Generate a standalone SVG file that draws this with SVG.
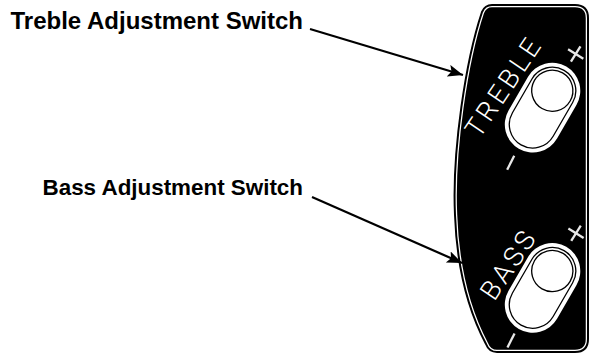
<svg xmlns="http://www.w3.org/2000/svg" width="590" height="356" viewBox="0 0 590 356">
  <defs>
    <style>
      .label { font-family: "Liberation Sans", Arial, sans-serif; font-weight: bold; font-size: 24px; fill: #000; }
      .panel-text { font-family: Roboto, "Liberation Sans", sans-serif; font-weight: 300; font-size: 27px; fill: #fff; letter-spacing: 3.5px; }
      .sign { stroke: #e8e8e8; stroke-width: 2.3; stroke-linecap: butt; fill: none; }
      .cap-outer { fill: #fff; }
      .cap-inner { fill: #fff; stroke: #000; stroke-width: 1.3; }
      .knob { fill: #fff; stroke: #000; stroke-width: 1.3; }
      .conn { stroke: #000; stroke-width: 2.2; fill: none; marker-end: url(#arrow); }
    </style>
    <marker id="arrow" markerUnits="userSpaceOnUse" markerWidth="18" markerHeight="14" refX="15" refY="6" orient="auto">
      <path d="M0,0 L15,6 L0,12 L3,6 Z" fill="#000"/>
    </marker>
    <path id="panelPath" d="M 492,5 L 575,5 Q 588,5 588,18 L 588,339 Q 588,352 575,352 L 497,352 Q 489,352 486,344 C 468,310 457,270 455,215 C 452,150 466,60 482,12 Q 485,5 492,5 Z"/>
    <g id="switchShape">
      <rect class="cap-outer" x="-67" y="-28" width="95" height="56" rx="28"/>
      <rect class="cap-inner" x="-62.5" y="-23.5" width="86" height="47" rx="23.5"/>
      <circle class="knob" cx="0" cy="0" r="20.6"/>
    </g>
  </defs>

  <g id="panel">
    <use href="#panelPath" fill="#000" stroke="#fff" stroke-width="4.5"/>
    <use href="#panelPath" fill="none" stroke="#000" stroke-width="2"/>
  </g>

  <g id="treble-switch">
    <use href="#switchShape" transform="translate(552.3,90.7) rotate(-60)"/>
    <text class="panel-text" text-anchor="middle" transform="translate(511.5,91.5) rotate(-56)">TREBLE</text>
    <line class="sign" x1="-9" y1="0" x2="9" y2="0" transform="translate(575.7,54) rotate(-58)"/>
    <line class="sign" x1="0" y1="-9" x2="0" y2="9" transform="translate(575.7,54) rotate(-58)"/>
    <line class="sign" x1="-7.8" y1="0" x2="7.8" y2="0" transform="translate(510.7,162.8) rotate(-63)"/>
  </g>

  <g id="bass-switch">
    <use href="#switchShape" transform="translate(552.3,271) rotate(-60)"/>
    <text class="panel-text" text-anchor="middle" transform="translate(516.5,269) rotate(-56)">BASS</text>
    <line class="sign" x1="-9" y1="0" x2="9" y2="0" transform="translate(576,233.3) rotate(-58)"/>
    <line class="sign" x1="0" y1="-9" x2="0" y2="9" transform="translate(576,233.3) rotate(-58)"/>
    <line class="sign" x1="-7.8" y1="0" x2="7.8" y2="0" transform="translate(511,340.5) rotate(-63)"/>
  </g>

  <g id="treble-label">
    <text class="label" x="303" y="28.5" text-anchor="end">Treble Adjustment Switch</text>
  </g>
  <g id="bass-label">
    <text class="label" x="303" y="195" text-anchor="end" style="font-size:22.4px">Bass Adjustment Switch</text>
  </g>

  <g id="connectors">
    <line class="conn" x1="310" y1="29" x2="463" y2="75"/>
    <line class="conn" x1="312" y1="197" x2="462" y2="263"/>
  </g>
</svg>
